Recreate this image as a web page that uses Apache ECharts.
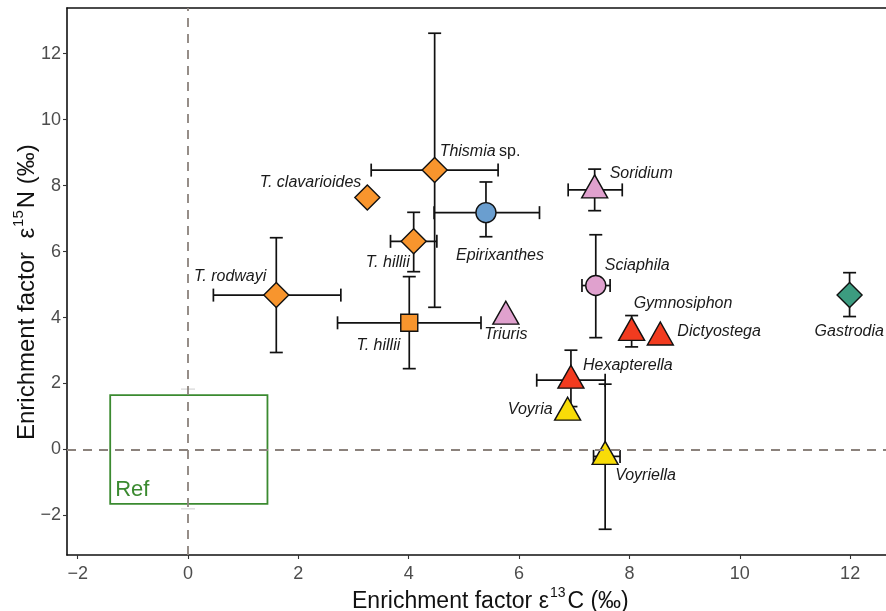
<!DOCTYPE html>
<html>
<head>
<meta charset="utf-8">
<script src="https://cdn.jsdelivr.net/npm/echarts@6/dist/echarts.min.js"></script>
<style>
html,body{margin:0;padding:0;background:#fff;}
#chart{width:886px;height:611px;}
</style>
</head>
<body>
<div id="chart"></div>
<script>
// ---------------- DATA ----------------
const taxa   = ['Thismia sp.', 'T. clavarioides', 'T. hillii (a)', 'Epirixanthes', 'Soridium', 'Sciaphila',
                'T. rodwayi', 'T. hillii (b)', 'Triuris', 'Gymnosiphon', 'Dictyostega', 'Gastrodia',
                'Hexapterella', 'Voyria', 'Voyriella'];
const labels = ['Thismia sp.', 'T. clavarioides', 'T. hillii', 'Epirixanthes', 'Soridium', 'Sciaphila',
                'T. rodwayi', 'T. hillii', 'Triuris', 'Gymnosiphon', 'Dictyostega', 'Gastrodia',
                'Hexapterella', 'Voyria', 'Voyriella'];
const epsC   = [4.47, 3.25, 4.09, 5.40, 7.37, 7.39, 1.60, 4.01, 5.76, 8.04, 8.56, 11.99, 6.94, 6.88, 7.56];
const epsN   = [8.47, 7.64, 6.31, 7.18, 7.87, 4.97, 4.68, 3.84, 4.04, 3.55, 3.41, 4.68, 2.10, 1.13, -0.21];
const cLow   = [3.32, null, 3.67, 4.46, 6.89, 7.14, 0.46, 2.71, null, null, null, null, 6.32, null, 7.35];
const cHigh  = [5.62, null, 4.51, 6.37, 7.87, 7.65, 2.77, 5.31, null, null, null, null, 7.56, null, 7.83];
const nLow   = [4.31, null, 5.39, 6.45, 7.24, 3.39, 2.94, 2.45, null, 3.11, null, 4.03, 1.30, null, -2.42];
const nHigh  = [12.62, null, 7.19, 8.11, 8.50, 6.51, 6.42, 5.24, null, 4.06, null, 5.36, 3.01, null, 1.98];
const refBoxC = [-1.41, 1.44];
const refBoxN = [-1.65, 1.65];
const refCapsN = [-1.80, 1.83];
const refLabel = 'Ref';
const xTicks = [-2, 0, 2, 4, 6, 8, 10, 12];
const yTicks = [-2, 0, 2, 4, 6, 8, 10, 12];

// ---------------- STYLES ----------------
const FONT = 'Liberation Sans, Arial, Helvetica, sans-serif';
const COL = {orange:'#F8952D', blue:'#6A9ECF', pink:'#E0A1CE', red:'#F23B1F', yellow:'#F8DC08', teal:'#3C9C80'};
const GREEN = '#3B8A30';
const SHAPE = {
  diamond: {symbol:'diamond', size:[25,25], offset:[0,0]},
  circle:  {symbol:'circle', size:20, offset:[0,0]},
  square:  {symbol:'rect', size:17, offset:[0,0]},
  triangle:{symbol:'triangle', size:[26,23], offset:[0,-3.5]}
};
// shape, color, label align, label offset [dx, dy] (relative to symbol box centre)
const styleMap = {
  'Thismia sp.':     ['diamond','orange','left',[5,-19]],
  'T. clavarioides': ['diamond','orange','right',[-6,-15]],
  'T. hillii (a)':   ['diamond','orange','right',[-4,21]],
  'Epirixanthes':    ['circle','blue','left',[-30,43]],
  'Soridium':        ['triangle','pink','left',[15,-13]],
  'Sciaphila':       ['circle','pink','left',[9,-20]],
  'T. rodwayi':      ['diamond','orange','right',[-10,-19]],
  'T. hillii (b)':   ['square','orange','right',[-9,23]],
  'Triuris':         ['triangle','pink','center',[0,22]],
  'Gymnosiphon':     ['triangle','red','left',[2,-25]],
  'Dictyostega':     ['triangle','red','left',[17,-2]],
  'Gastrodia':       ['diamond','teal','left',[-35,36]],
  'Hexapterella':    ['triangle','red','left',[12,-11]],
  'Voyria':          ['triangle','yellow','right',[-15,1]],
  'Voyriella':       ['triangle','yellow','left',[10,23]]
};

const points = taxa.map((t, i) => {
  const s = styleMap[t];
  const sh = SHAPE[s[0]];
  const txt = labels[i] === 'Thismia sp.' ? '{i|Thismia} {n|sp.}' : '{i|' + labels[i] + '}';
  return {
    value: [epsC[i], epsN[i]],
    symbol: sh.symbol, symbolSize: sh.size, symbolOffset: sh.offset,
    itemStyle: {color: COL[s[1]], borderColor: '#111', borderWidth: 1.4, opacity: 1},
    label: {show: true, position: 'inside', align: s[2], verticalAlign: 'middle', offset: s[3],
            formatter: txt, color: '#1a1a1a'}
  };
});

const chart = echarts.init(document.getElementById('chart'), null, {renderer: 'canvas'});
const minus = v => String(v).replace('-', '\u2212');

const axisCommon = {
  type: 'value', splitLine: {show: false},
  axisLine: {show: true, onZero: false, lineStyle: {color: '#111', width: 1.6}},
};

chart.setOption({
  animation: false,
  backgroundColor: '#fff',
  textStyle: {fontFamily: FONT},
  grid: {left: 67, right: 0, top: 8, bottom: 56, containLabel: false},
  xAxis: [
    Object.assign({}, axisCommon, {
      position: 'bottom', min: -2.193, max: 12.65,
      axisTick: {show: true, customValues: xTicks, length: 4, lineStyle: {color: '#333', width: 1.1}},
      axisLabel: {show: true, customValues: xTicks, fontSize: 18, color: '#4d4d4d', margin: 10, fontFamily: FONT,
                  formatter: minus}
    }),
    Object.assign({}, axisCommon, {
      position: 'top', min: -2.193, max: 12.65,
      axisTick: {show: false}, axisLabel: {show: false}
    })
  ],
  yAxis: Object.assign({}, axisCommon, {
    position: 'left', min: -3.2, max: 13.385,
    axisTick: {show: true, customValues: yTicks, length: 4, lineStyle: {color: '#333', width: 1.1}},
    axisLabel: {show: true, customValues: yTicks, fontSize: 18, color: '#4d4d4d', margin: 6, fontFamily: FONT,
                formatter: minus}
  }),
  series: [
    {
      type: 'scatter', data: [], z: 1, silent: true,
      markLine: {
        silent: true, symbol: 'none', animation: false,
        label: {show: false},
        lineStyle: {color: '#8b827c', type: [9, 7], width: 1.8},
        data: [{xAxis: 0}, {yAxis: 0}]
      },
      markArea: {
        silent: true,
        itemStyle: {color: 'rgba(0,0,0,0)', borderColor: GREEN, borderWidth: 1.8},
        label: {show: false},
        data: [[{coord: [refBoxC[0], refBoxN[0]]}, {coord: [refBoxC[1], refBoxN[1]]}]]
      }
    },
    {
      // reference-box label
      type: 'custom', z: 2, silent: true,
      data: [[refBoxC[0], refBoxN[0]]],
      renderItem: function (params, api) {
        const p = api.coord([api.value(0), api.value(1)]);
        return {type: 'text', x: p[0] + 5, y: p[1] - 3,
                style: {text: refLabel, fill: GREEN, font: '22px ' + FONT, align: 'left', verticalAlign: 'bottom'}};
      }
    },
    {
      // faint reference caps
      type: 'custom', z: 1, silent: true,
      data: [[0, refCapsN[0]], [0, refCapsN[1]]],
      renderItem: function (params, api) {
        const p = api.coord([api.value(0), api.value(1)]);
        return {type: 'line', shape: {x1: p[0] - 7, y1: p[1], x2: p[0] + 7, y2: p[1]},
                style: {stroke: '#d8d8d8', lineWidth: 1.3}};
      }
    },
    {
      // error bars
      type: 'custom', z: 2, silent: true,
      data: taxa.map((t, i) => [epsC[i], epsN[i]]),
      renderItem: function (params, api) {
        const i = params.dataIndex;
        const ch = [];
        const cap = 6.5;
        const st = {stroke: '#111', lineWidth: 1.7};
        if (nLow[i] !== null) {
          const a = api.coord([epsC[i], nLow[i]]);
          const b = api.coord([epsC[i], nHigh[i]]);
          ch.push({type: 'line', shape: {x1: a[0], y1: a[1], x2: b[0], y2: b[1]}, style: st});
          ch.push({type: 'line', shape: {x1: a[0] - cap, y1: a[1], x2: a[0] + cap, y2: a[1]}, style: st});
          ch.push({type: 'line', shape: {x1: b[0] - cap, y1: b[1], x2: b[0] + cap, y2: b[1]}, style: st});
        }
        if (cLow[i] !== null) {
          const a = api.coord([cLow[i], epsN[i]]);
          const b = api.coord([cHigh[i], epsN[i]]);
          ch.push({type: 'line', shape: {x1: a[0], y1: a[1], x2: b[0], y2: b[1]}, style: st});
          ch.push({type: 'line', shape: {x1: a[0], y1: a[1] - cap, x2: a[0], y2: a[1] + cap}, style: st});
          ch.push({type: 'line', shape: {x1: b[0], y1: b[1] - cap, x2: b[0], y2: b[1] + cap}, style: st});
        }
        return {type: 'group', children: ch};
      }
    },
    {
      type: 'scatter', z: 3, silent: true,
      data: points,
      itemStyle: {opacity: 1},
      label: {
        fontFamily: FONT,
        rich: {
          i: {fontStyle: 'italic', fontSize: 16, color: '#1a1a1a', fontFamily: FONT},
          n: {fontStyle: 'normal', fontSize: 16, color: '#1a1a1a', fontFamily: FONT}
        }
      }
    }
  ],
  graphic: [
    {
      type: 'text', left: 352, top: 586, silent: true,
      style: {
        text: '{a|Enrichment factor ε}{s|13}{a|C (‰)}',
        rich: {
          a: {fontSize: 23, fontFamily: FONT, fill: '#111', lineHeight: 27, verticalAlign: 'bottom'},
          s: {fontSize: 14, fontFamily: FONT, fill: '#111', lineHeight: 27, verticalAlign: 'top', padding: [0, 2, 0, 1]}
        }
      }
    },
    {
      type: 'text', silent: true,
      x: 11, y: 440, rotation: Math.PI / 2,
      style: {
        text: '{a|Enrichment factor  ε}{s|15}{a|N (‰)}',
        align: 'left', verticalAlign: 'top',
        rich: {
          a: {fontSize: 24, fontFamily: FONT, fill: '#111', lineHeight: 28, verticalAlign: 'bottom'},
          s: {fontSize: 15, fontFamily: FONT, fill: '#111', lineHeight: 28, verticalAlign: 'top', padding: [0, 2, 0, 1]}
        }
      }
    }
  ]
});
</script>
</body>
</html>
